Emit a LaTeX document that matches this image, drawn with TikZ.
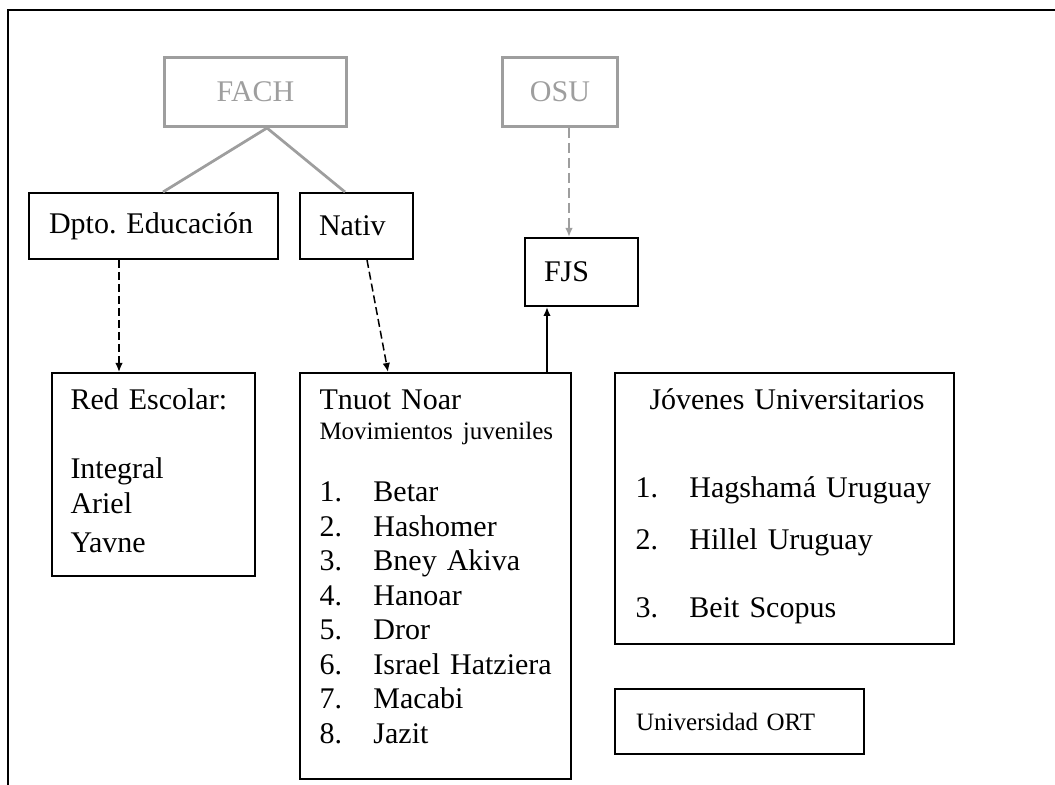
\documentclass[tikz,border=0pt]{standalone}
\usepackage{fontspec}
\setmainfont{Liberation Serif}
\usepackage{xcolor}
\usetikzlibrary{arrows.meta,positioning,calc}
\definecolor{grisclaro}{HTML}{9E9E9E}
\newcommand{\itm}[1]{\makebox[17.6pt][l]{#1.}}
\frenchspacing

\begin{document}
\begin{tikzpicture}[
  x=0.4pt, y=-0.4pt,
  caja/.style={draw, line width=0.8pt, anchor=north west, inner sep=0pt, align=left,
               font=\fontsize{12}{13.8}\selectfont},
  cajagris/.style={caja, draw=grisclaro, line width=1.2pt, text=grisclaro, align=center},
  texto/.style={anchor=base west, inner sep=0pt, align=left, font=\fontsize{12}{13.8}\selectfont},
  rama/.style={draw=grisclaro, line width=1.1pt},
  trazos/.style={line width=0.6pt, dash pattern=on 3.2pt off 1.6pt, -{Latex[length=3.6pt,width=3pt]}},
  trazosgris/.style={trazos, draw=grisclaro, dash pattern=on 4pt off 2pt, line width=0.7pt},
  flecha/.style={line width=0.7pt, -{Latex[length=3.6pt,width=3pt]}}
]
\useasboundingbox (0,0) rectangle (1055,785);

% marco de la hoja
\draw[line width=0.8pt] (8,785) -- (8,10) -- (1055,10);

% organismos de arriba
\node[cajagris, minimum width=72.8pt, minimum height=27.6pt] (fach) at (163,56) {FACH};
\node[cajagris, minimum width=46pt, minimum height=27.6pt] (osu) at (501,56) {OSU};

\node[caja, text width=83.6pt, inner xsep=8pt, minimum height=26.4pt] (dpto) at (28,192) {Dpto. Educación};
\node[caja, text width=30pt, inner xsep=7.6pt, minimum height=26.4pt] (nativ) at (299,192) {Nativ};
\node[caja, text width=30pt, inner xsep=7.6pt, minimum height=27.2pt] (fjs) at (524,237) {FJS};

% cajas grandes
\node[caja, minimum width=81.2pt, minimum height=81.2pt] (red) at (51,372) {};
\node[caja, minimum width=108.4pt, minimum height=162.4pt] (tnuot) at (299,372) {};
\node[caja, minimum width=135.6pt, minimum height=108.4pt] (jov) at (614,372) {};
\node[caja, text width=82.8pt, inner xsep=8.4pt, minimum height=26pt,
      font=\fontsize{10}{12}\selectfont] (ort) at (614,688) {Universidad ORT};

\node[texto, text width=70pt] (red-txt) at ([shift={(19,38)}]red.north west) {%
  Red Escolar:\\[13.8pt]
  Integral\\
  Ariel\\[1.8pt]
  Yavne};
\node[texto, text width=100pt] (tnuot-txt) at ([shift={(20,38)}]tnuot.north west) {%
  Tnuot Noar\\[-1.8pt]
  {\fontsize{10}{12}\selectfont Movimientos juveniles}\\[11pt]
  \itm1 Betar\\
  \itm2 Hashomer\\
  \itm3 Bney Akiva\\
  \itm4 Hanoar\\
  \itm5 Dror\\
  \itm6 Israel Hatziera\\
  \itm7 Macabi\\
  \itm8 Jazit};
\node[texto, text width=125pt] (jov-txt) at ([shift={(21,38)}]jov.north west) {%
  \hspace*{5.6pt}Jóvenes Universitarios\\[21.4pt]
  \itm1 Hagshamá Uruguay\\[7pt]
  \itm2 Hillel Uruguay\\[13pt]
  \itm3 Beit Scopus};

% conexiones
\draw[rama] ([shift={(104,0)}]fach.south west) -- ([shift={(135,0)}]dpto.north west);
\draw[rama] ([shift={(104,0)}]fach.south west) -- ([shift={(46,0)}]nativ.north west);
\draw[trazos] ([shift={(91,0)}]dpto.south west) -- ([shift={(68,0)}]red.north west);
\draw[trazos] ([shift={(68,0)}]nativ.south west) -- ([shift={(89,0)}]tnuot.north west);
\draw[trazosgris] ([shift={(68,0)}]osu.south west) -- ([shift={(45,0)}]fjs.north west);
\draw[flecha] ([shift={(248,0)}]tnuot.north west) -- ([shift={(23,0)}]fjs.south west);
\end{tikzpicture}
\end{document}
